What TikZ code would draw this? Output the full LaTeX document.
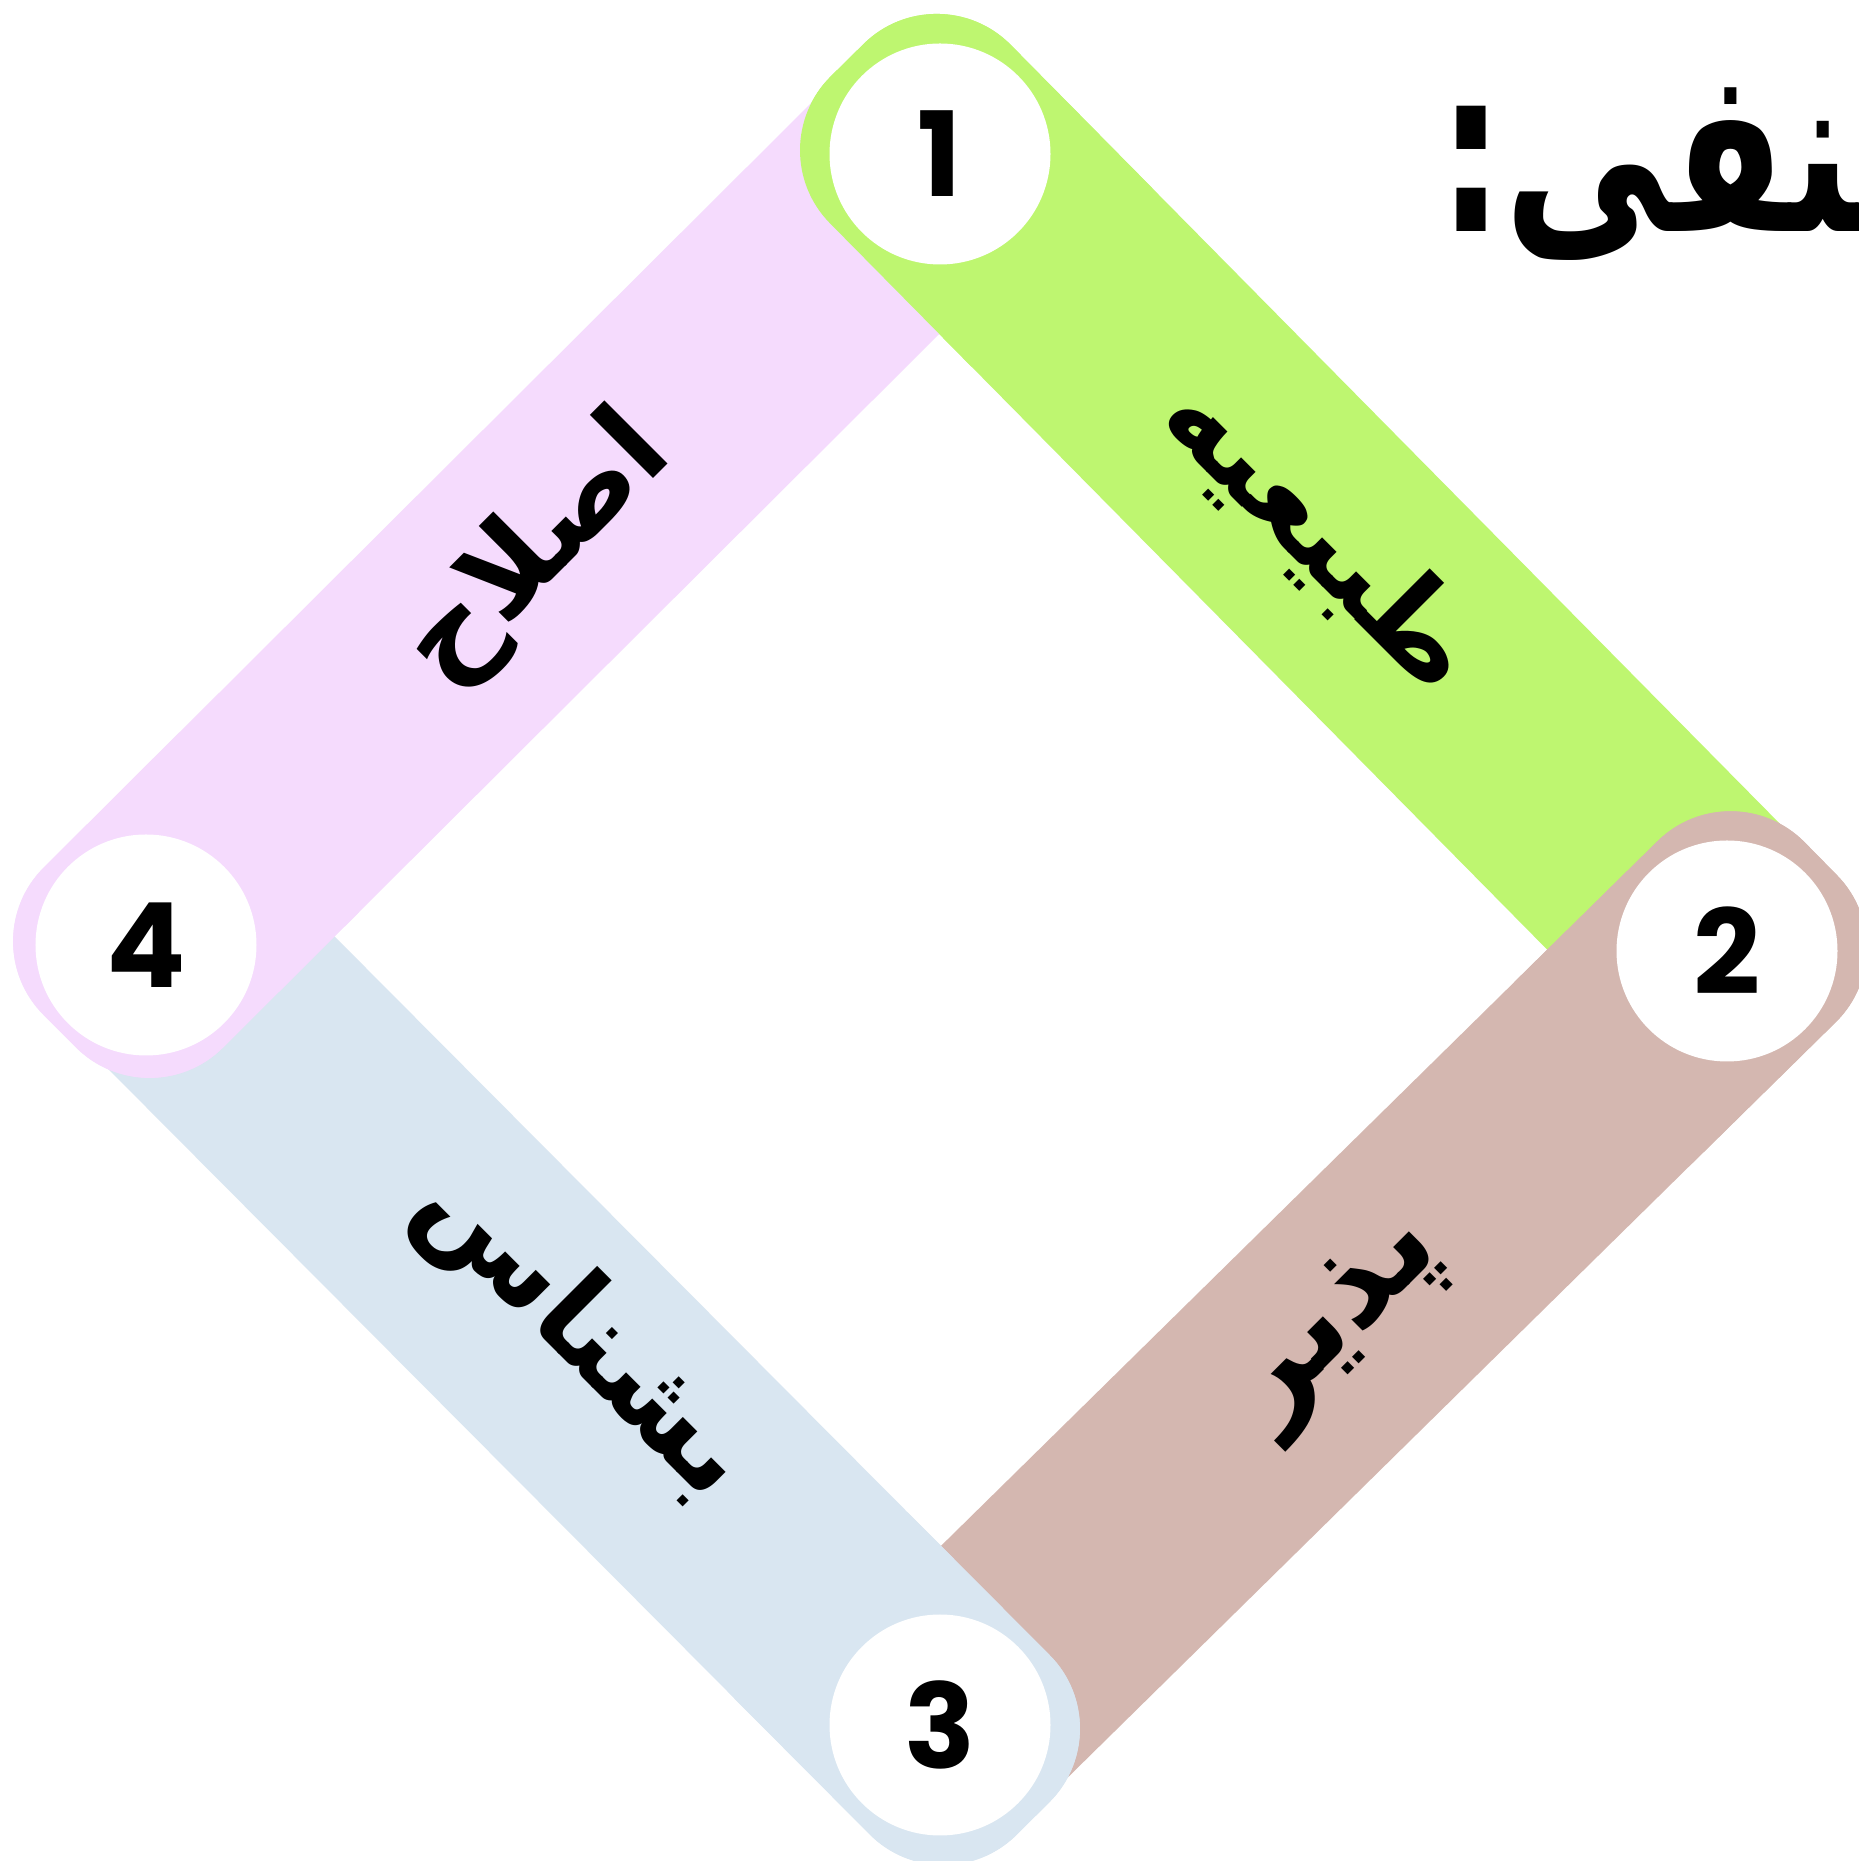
\documentclass[tikz,border=0pt]{standalone}
\usepackage{fontspec}
\usetikzlibrary{calc}
\TeXXeTstate=1
\newfontfamily\arabicfont[Script=Arabic]{DejaVu Sans}
\newfontfamily\digitfont{Poppins}
\definecolor{bandpink}{RGB}{245,219,253}
\definecolor{bandgreen}{RGB}{190,246,112}
\definecolor{bandbrown}{RGB}{212,183,176}
\definecolor{bandblue}{RGB}{217,230,241}
% #1 start, #2 end, #3 colour, #4 node name, #5 extension before start (end extension is 95bp)
\newcommand\myband[5]{%
  \path let \p1=(#1), \p2=(#2),
        \n1={atan2(\y2-\y1,\x2-\x1)},
        \n2={veclen(\x2-\x1,\y2-\y1)} in
    node[bandshape, fill=#3, rotate=\n1, minimum width={\n2+#5bp+95bp}]
      (#4) at ($(#1)!0.5!(#2)!{(#5bp-95bp)/2}!(#1)$) {};}
\tikzset{
  bandshape/.style={rectangle, rounded corners=104bp, minimum height=254bp, inner sep=0pt, draw=none},
  numcircle/.style={circle, fill=white, minimum size=221bp, inner sep=0pt,
    font=\digitfont\bfseries\fontsize{118}{120}\selectfont},
  bandtext/.style={inner sep=0pt, font=\arabicfont\bfseries\fontsize{118}{130}\selectfont},
}
\begin{document}
\begin{tikzpicture}[x=1bp,y=1bp]
\fill[white] (0,0) rectangle (1859,1861);
\useasboundingbox (0,0) rectangle (1859,1861);
\coordinate (p1) at (940,1707);
\coordinate (p2) at (1727,910);
\coordinate (p3) at (940,136);
\coordinate (p4) at (146,916);
\coordinate (p4b) at (155,925);
% bands
\myband{p1}{p2}{bandgreen}{bandG}{132}
\myband{p2}{p3}{bandbrown}{bandB}{132}
\myband{p3}{p4b}{bandblue}{bandL}{132}
\myband{p4}{p1}{bandpink}{bandP}{122}
% start caps on top
\begin{scope}\clip (p1) circle (215bp); \myband{p1}{p2}{bandgreen}{capG}{132}\end{scope}
\begin{scope}\clip (p2) circle (215bp); \myband{p2}{p3}{bandbrown}{capB}{132}\end{scope}
\begin{scope}\clip (p3) circle (215bp); \myband{p3}{p4b}{bandblue}{capL}{132}\end{scope}
\begin{scope}\clip (p4) circle (215bp); \myband{p4}{p1}{bandpink}{capP}{122}\end{scope}
% circles
\node[numcircle] (n1) at (p1) {1};
\node[numcircle] (n2) at (p2) {2};
\node[numcircle] (n3) at (p3) {3};
\node[numcircle] (n4) at (p4) {4};
% band labels
\node[bandtext, rotate=45] (t4) at (538,1310) {\beginR اصلاح\endR};
\node[bandtext, rotate=-45] (t1) at (1320,1325) {\beginR طبیعیه\endR};
\node[bandtext, rotate=45, font=\arabicfont\bfseries\fontsize{128}{140}\selectfont] (t2) at (1340,538) {\beginR پذیر\endR};
\node[bandtext, rotate=-45] (t3) at (582,527) {\beginR بشناس\endR};
% title
\node[anchor=base west, inner sep=0pt, xscale=0.72, font=\arabicfont\bfseries\fontsize{230}{240}\selectfont] (title) at (1438,1629) {\beginR منفی:\endR};
\end{tikzpicture}
\end{document}
